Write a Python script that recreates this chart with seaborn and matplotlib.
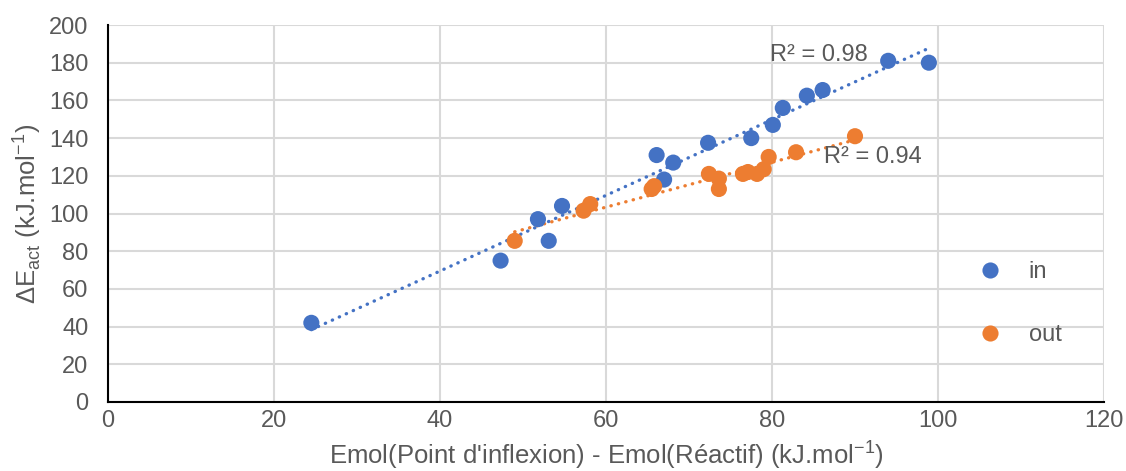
import numpy as np
import pandas as pd
import matplotlib
matplotlib.use("Agg")
import matplotlib.pyplot as plt
import seaborn as sns

# valeurs
in_x = [24.5, 47.3, 51.8, 53.1, 54.7, 66.1, 67.0, 68.1, 72.3, 77.5, 80.1, 81.3, 84.2, 86.1, 94.0, 98.9]
in_y = [42, 75, 97, 85.5, 104, 131, 118, 127, 137.5, 140, 147, 156, 162.5, 165.5, 181, 180]

out_x = [49.0, 57.3, 58.1, 65.5, 65.8, 72.4, 73.6, 73.6, 76.5, 77.1, 78.2, 79.0, 79.6, 82.9, 90.0]
out_y = [85.5, 101.5, 105, 113, 114.5, 121, 118.5, 113, 121, 122, 121, 123.5, 130, 132.5, 141]

series_names = ["in", "out"]
r2_labels = ["R² = 0.98", "R² = 0.94"]
r2_pos = [(79.8, 184), (86.3, 130)]

colors = ["#4472C4", "#ED7D31"]
grey = "#595959"

df = pd.concat([
    pd.DataFrame({"x": in_x, "y": in_y, "serie": "in"}),
    pd.DataFrame({"x": out_x, "y": out_y, "serie": "out"}),
])

sns.set_theme(style="white")
plt.rcParams["font.family"] = ["Liberation Sans", "DejaVu Sans"]
plt.rcParams["mathtext.fontset"] = "custom"
plt.rcParams["mathtext.rm"] = "Liberation Sans"

fig, ax = plt.subplots(figsize=(11.26, 4.71), dpi=100)
fig.subplots_adjust(left=108 / 1126, right=1104 / 1126, top=1 - 25 / 471, bottom=1 - 402 / 471)

# droites de tendance
for name, col in zip(series_names, colors):
    sub = df[df.serie == name]
    sns.regplot(data=sub, x="x", y="y", ax=ax, scatter=False, ci=None, truncate=True,
                line_kws={"color": col, "lw": 2.4, "linestyle": (0, (0.1, 2.2)),
                          "dash_capstyle": "round"})

sns.scatterplot(data=df, x="x", y="y", hue="serie", palette=colors, s=135,
                edgecolor="none", ax=ax, zorder=3)

for lab, (tx, ty) in zip(r2_labels, r2_pos):
    ax.text(tx, ty, lab, color=grey, fontsize=17, va="center", ha="left")

ax.set_xlim(0, 120)
ax.set_ylim(0, 200)
ax.set_xticks(range(0, 121, 20))
ax.set_yticks(range(0, 201, 20))
ax.grid(True, color="#D9D9D9", lw=1.5)
ax.set_axisbelow(True)
ax.tick_params(length=0, labelsize=17, labelcolor=grey)
ax.tick_params(axis="y", pad=14)
ax.tick_params(axis="x", pad=6)

for s in ["top", "right"]:
    ax.spines[s].set_visible(False)
for s in ["left", "bottom"]:
    ax.spines[s].set_color("black")
    ax.spines[s].set_linewidth(1.5)

ax.set_xlabel("Emol(Point d'inflexion) - Emol(Réactif) (kJ.mol$^{\\mathregular{-1}}$)",
              fontsize=18.5, color=grey, labelpad=4)
ax.set_ylabel("ΔE$_{\\mathregular{act}}$ (kJ.mol$^{\\mathregular{-1}}$)",
              fontsize=18.5, color=grey, labelpad=4)

handles, labels = ax.get_legend_handles_labels()
ax.legend(handles, labels, loc="upper left", bbox_to_anchor=(0.852, 0.43), frameon=False,
          fontsize=17, labelcolor=grey, handlelength=1.0, handletextpad=1.15,
          labelspacing=1.75, markerscale=1.0)

fig.savefig("out.png", dpi=100, facecolor="white")
